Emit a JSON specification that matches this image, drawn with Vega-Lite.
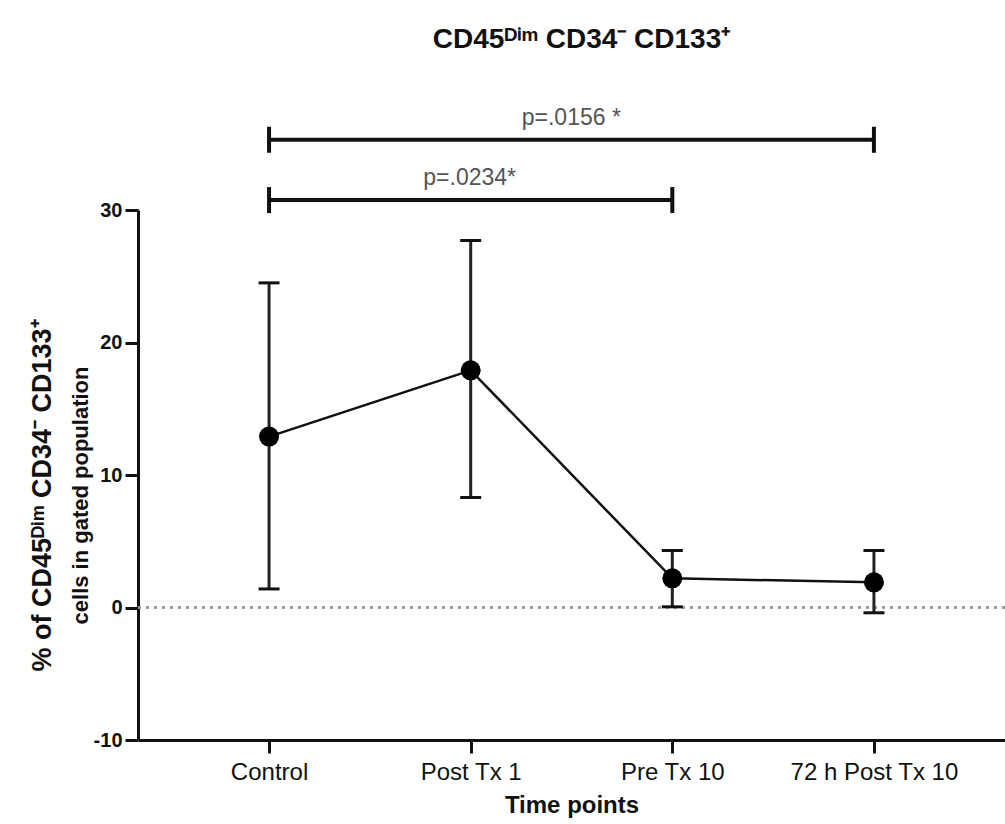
{
  "$schema": "https://vega.github.io/schema/vega-lite/v6.json",
  "width": 867,
  "height": 530,
  "autosize": {"type": "none"},
  "padding": {"left": 138, "top": 210, "right": 0, "bottom": 84},
  "background": "white",
  "title": {
    "text": "CD45ᴰⁱᵐ CD34⁻ CD133⁺",
    "frame": "group",
    "anchor": "middle",
    "baseline": "alphabetic",
    "offset": 31,
    "dx": 10,
    "font": "Liberation Sans",
    "fontSize": 28,
    "fontWeight": "bold",
    "color": "#111"
  },
  "datasets": {
    "points": [
      {"time": "Control", "mean": 12.9, "lo": 1.4, "hi": 24.5},
      {"time": "Post Tx 1", "mean": 17.9, "lo": 8.3, "hi": 27.7},
      {"time": "Pre Tx 10", "mean": 2.2, "lo": 0.05, "hi": 4.3},
      {"time": "72 h Post Tx 10", "mean": 1.9, "lo": -0.4, "hi": 4.3}
    ],
    "brackets": [
      {"from": "Control", "to": "72 h Post Tx 10", "y": 35.3, "label": "p=.0156 *", "at": "Pre Tx 10"},
      {"from": "Control", "to": "Pre Tx 10", "y": 30.75, "label": "p=.0234*", "at": "Post Tx 1"}
    ]
  },
  "config": {
    "view": {"stroke": null},
    "axis": {
      "domainColor": "#111",
      "domainWidth": 3,
      "tickColor": "#111",
      "tickWidth": 3,
      "tickSize": 13,
      "grid": false,
      "labelColor": "#111",
      "titleColor": "#111"
    },
    "axisX": {
      "labelFont": "Liberation Sans",
      "labelFontSize": 24,
      "labelFontWeight": "normal",
      "labelPadding": 7,
      "labelAngle": 0,
      "titleFont": "Liberation Sans",
      "titleFontSize": 24,
      "titleFontWeight": "bold",
      "titlePadding": 9
    },
    "axisY": {
      "labelFont": "Liberation Sans",
      "labelFontSize": 20,
      "labelFontWeight": "bold",
      "labelPadding": 3,
      "titleFont": "Liberation Sans",
      "titleFontWeight": "bold",
      "titleAngle": -90,
      "titleAlign": "center",
      "titleBaseline": "middle",
      "titleY": 285
    }
  },
  "layer": [
    {
      "encoding": {
        "x": {"type": "nominal", "scale": {"type": "point", "padding": 0.65, "domain": ["Control", "Post Tx 1", "Pre Tx 10", "72 h Post Tx 10"]}, "title": "Time points"}
      },
      "layer": [
        {
          "data": {"name": "points"},
          "mark": {"type": "rule", "color": "#999", "strokeWidth": 2, "strokeDash": [3, 5]},
          "encoding": {
            "y": {"datum": 0, "type": "quantitative", "title": "cells in gated population"}
          }
        },
        {
          "data": {"name": "points"},
          "mark": {"type": "rule", "color": "#222", "strokeWidth": 3},
          "encoding": {
            "x": {"field": "time", "type": "nominal", "scale": {"type": "point", "padding": 0.65, "domain": ["Control", "Post Tx 1", "Pre Tx 10", "72 h Post Tx 10"]}, "title": "Time points"},
            "y": {"field": "lo", "type": "quantitative", "scale": {"domain": [-10, 30], "nice": false, "zero": false},
                  "axis": {"values": [-10, 0, 10, 20, 30], "labelExpr": "datum.value + ''", "titleFontSize": 22, "titleX": -58},
                  "title": "cells in gated population"},
            "y2": {"field": "hi"}
          }
        },
        {
          "data": {"name": "points"},
          "mark": {"type": "tick", "color": "#111", "opacity": 1, "size": 21, "thickness": 3, "orient": "horizontal"},
          "encoding": {
            "x": {"field": "time", "type": "nominal", "scale": {"type": "point", "padding": 0.65, "domain": ["Control", "Post Tx 1", "Pre Tx 10", "72 h Post Tx 10"]}, "title": "Time points"},
            "y": {"field": "lo", "type": "quantitative", "title": "cells in gated population"}
          }
        },
        {
          "data": {"name": "points"},
          "mark": {"type": "tick", "color": "#111", "opacity": 1, "size": 21, "thickness": 3, "orient": "horizontal"},
          "encoding": {
            "x": {"field": "time", "type": "nominal", "scale": {"type": "point", "padding": 0.65, "domain": ["Control", "Post Tx 1", "Pre Tx 10", "72 h Post Tx 10"]}, "title": "Time points"},
            "y": {"field": "hi", "type": "quantitative", "title": "cells in gated population"}
          }
        },
        {
          "data": {"name": "points"},
          "mark": {"type": "line", "color": "#111", "strokeWidth": 2.5},
          "encoding": {
            "x": {"field": "time", "type": "nominal", "scale": {"type": "point", "padding": 0.65, "domain": ["Control", "Post Tx 1", "Pre Tx 10", "72 h Post Tx 10"]}, "sort": null, "title": "Time points"},
            "y": {"field": "mean", "type": "quantitative", "title": "cells in gated population"}
          }
        },
        {
          "data": {"name": "brackets"},
          "mark": {"type": "rule", "color": "#111", "strokeWidth": 4},
          "encoding": {
            "x": {"field": "from", "type": "nominal", "scale": {"type": "point", "padding": 0.65, "domain": ["Control", "Post Tx 1", "Pre Tx 10", "72 h Post Tx 10"]}, "title": "Time points"},
            "x2": {"field": "to"},
            "y": {"field": "y", "type": "quantitative", "title": "cells in gated population"}
          }
        },
        {
          "data": {"name": "brackets"},
          "mark": {"type": "tick", "color": "#111", "opacity": 1, "size": 26, "thickness": 4, "orient": "vertical"},
          "encoding": {
            "x": {"field": "from", "type": "nominal", "scale": {"type": "point", "padding": 0.65, "domain": ["Control", "Post Tx 1", "Pre Tx 10", "72 h Post Tx 10"]}, "title": "Time points"},
            "y": {"field": "y", "type": "quantitative", "title": "cells in gated population"}
          }
        },
        {
          "data": {"name": "brackets"},
          "mark": {"type": "tick", "color": "#111", "opacity": 1, "size": 26, "thickness": 4, "orient": "vertical"},
          "encoding": {
            "x": {"field": "to", "type": "nominal", "scale": {"type": "point", "padding": 0.65, "domain": ["Control", "Post Tx 1", "Pre Tx 10", "72 h Post Tx 10"]}, "title": "Time points"},
            "y": {"field": "y", "type": "quantitative", "title": "cells in gated population"}
          }
        },
        {
          "data": {"name": "brackets"},
          "transform": [{"filter": "datum.at === 'Pre Tx 10'"}],
          "mark": {"type": "text", "font": "Liberation Sans", "fontSize": 23, "color": "#555", "baseline": "alphabetic", "dy": -15, "dx": -101},
          "encoding": {
            "x": {"field": "at", "type": "nominal", "scale": {"type": "point", "padding": 0.65, "domain": ["Control", "Post Tx 1", "Pre Tx 10", "72 h Post Tx 10"]}, "title": "Time points"},
            "y": {"field": "y", "type": "quantitative", "title": "cells in gated population"},
            "text": {"field": "label"}
          }
        },
        {
          "data": {"name": "brackets"},
          "transform": [{"filter": "datum.at === 'Post Tx 1'"}],
          "mark": {"type": "text", "font": "Liberation Sans", "fontSize": 23, "color": "#555", "baseline": "alphabetic", "dy": -15, "dx": -1},
          "encoding": {
            "x": {"field": "at", "type": "nominal", "scale": {"type": "point", "padding": 0.65, "domain": ["Control", "Post Tx 1", "Pre Tx 10", "72 h Post Tx 10"]}, "title": "Time points"},
            "y": {"field": "y", "type": "quantitative", "title": "cells in gated population"},
            "text": {"field": "label"}
          }
        }
      ]
    },
    {
      "data": {"name": "points"},
      "mark": {"type": "point", "shape": "circle", "filled": true, "color": "#000", "opacity": 1, "size": 400},
      "encoding": {
        "x": {"field": "time", "type": "nominal", "scale": {"type": "point", "padding": 0.65, "domain": ["Control", "Post Tx 1", "Pre Tx 10", "72 h Post Tx 10"]}, "title": "Time points"},
        "y": {"field": "mean", "type": "quantitative", "scale": {"domain": [-10, 30], "nice": false, "zero": false},
              "axis": {"orient": "left", "domain": false, "ticks": false, "labels": false, "titleFontSize": 27, "titleX": -96},
              "title": "% of CD45ᴰⁱᵐ CD34⁻ CD133⁺"}
      }
    }
  ],
  "resolve": {"scale": {"y": "independent"}, "axis": {"y": "independent"}}
}
